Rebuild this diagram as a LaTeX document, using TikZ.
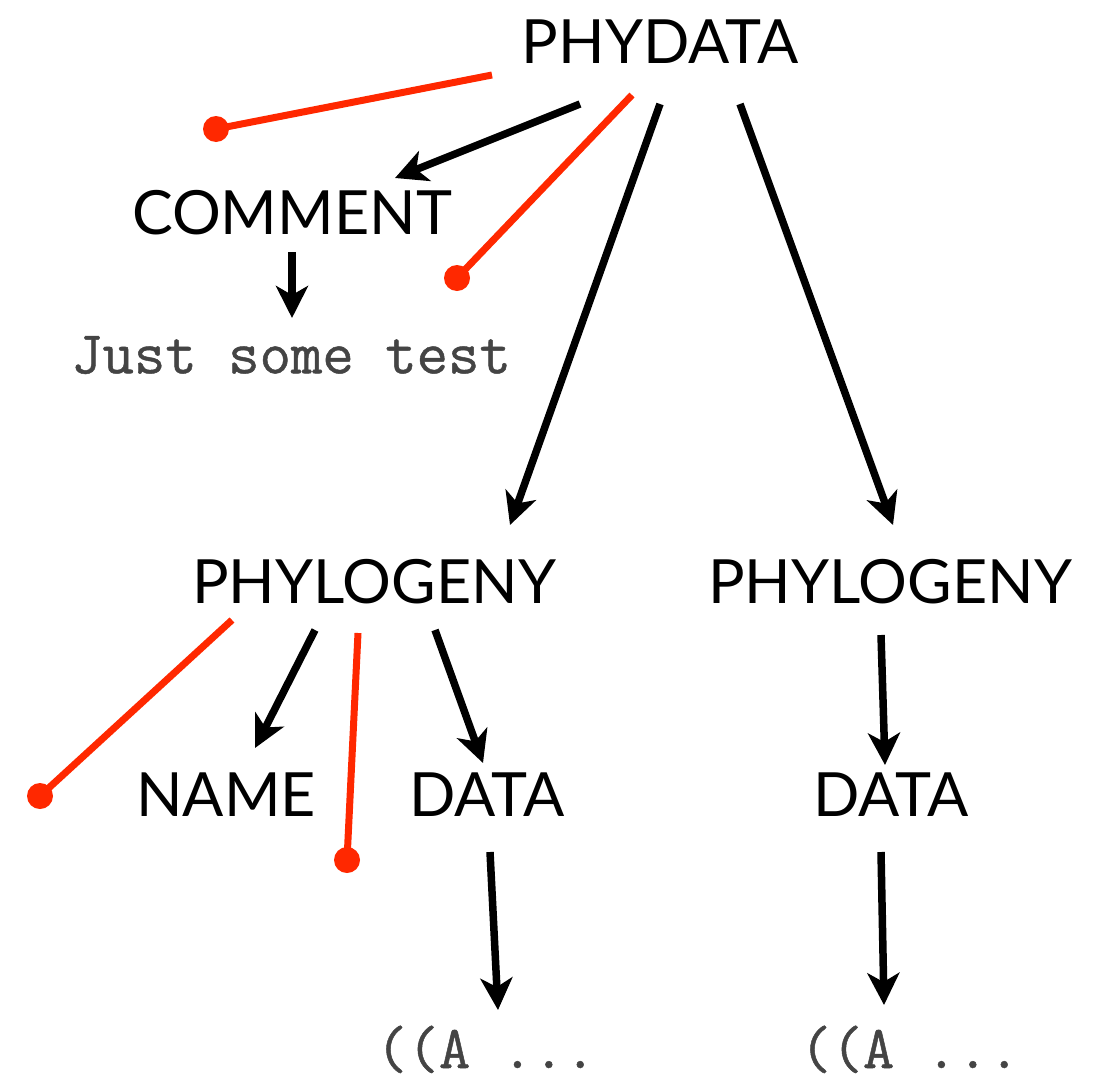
\documentclass[tikz,border=0pt]{standalone}
\usepackage{fontspec}
\setmainfont{Lato}
\setmonofont{Latin Modern Mono}[FakeBold=0.8]
\usetikzlibrary{arrows.meta,calc}
\definecolor{redline}{RGB}{255,40,0}
\definecolor{codegray}{RGB}{68,68,68}
\begin{document}
\begin{tikzpicture}[x=1pt,y=-1pt,
  lbl/.style={inner sep=0pt, font=\fontsize{61}{61}\selectfont},
  code/.style={inner sep=0pt, text=codegray, font=\fontsize{61}{61}\selectfont\ttfamily},
  arr/.style={line width=7.5pt, -{Stealth[length=32pt,width=32pt,inset=9pt]}},
  redl/.style={line width=7pt, draw=redline},
  dot/.style={circle, fill=redline, inner sep=0pt, minimum size=26pt}]
\useasboundingbox (0,0) rectangle (1102,1076);
% nodes
\node[lbl] (phydata) at (660,42) {PHYDATA};
\node[lbl] (comment) at (292,213) {COMMENT};
\node[code] (just) at (291,355) {Just some test};
\node[lbl] (phyL) at (374,582) {PHYLOGENY};
\node[lbl] (phyR) at (890,582) {PHYLOGENY};
\node[lbl] (name) at (226,795) {NAME};
\node[lbl] (dataL) at (487,795) {DATA};
\node[lbl] (dataR) at (891,795) {DATA};
\node[code, anchor=base] (aL) at (486,1068) {((A ...};
\node[code, anchor=base] (aR) at (910,1068) {((A ...};
% red dots
\node[dot] (d1) at (216,129) {};
\node[dot] (d2) at (457,278) {};
\node[dot] (d3) at (40,796) {};
\node[dot] (d4) at (347,860) {};
% black arrows
\draw[arr] ([shift={(-80,62)}]phydata.center) -- ([shift={(103,-35)}]comment.center);
\draw[arr] ([shift={(0,62)}]phydata.center) -- ([shift={(136,-57)}]phyL.center);
\draw[arr] ([shift={(80,62)}]phydata.center) -- ([shift={(3,-57)}]phyR.center);
\draw[arr] ([shift={(0,39)}]comment.center) -- ([shift={(1,-37)}]just.center);
\draw[arr] ([shift={(-59,48)}]phyL.center) -- ([shift={(29,-47)}]name.center);
\draw[arr] ([shift={(61,48)}]phyL.center) -- ([shift={(-4,-32)}]dataL.center);
\draw[arr] ([shift={(-9,53)}]phyR.center) -- ([shift={(-6,-30)}]dataR.center);
\draw[arr] ([shift={(3,57)}]dataL.center) -- ([shift={(12,-58)}]aL.base);
\draw[arr] ([shift={(-10,57)}]dataR.center) -- ([shift={(-26,-63)}]aR.base);
% red lines
\draw[redl] ([shift={(-168,33)}]phydata.center) -- (d1.center);
\draw[redl] ([shift={(-28,53)}]phydata.center) -- (d2.center);
\draw[redl] ([shift={(-142,38)}]phyL.center) -- (d3.center);
\draw[redl] ([shift={(-16,51)}]phyL.center) -- (d4.center);
\end{tikzpicture}
\end{document}
